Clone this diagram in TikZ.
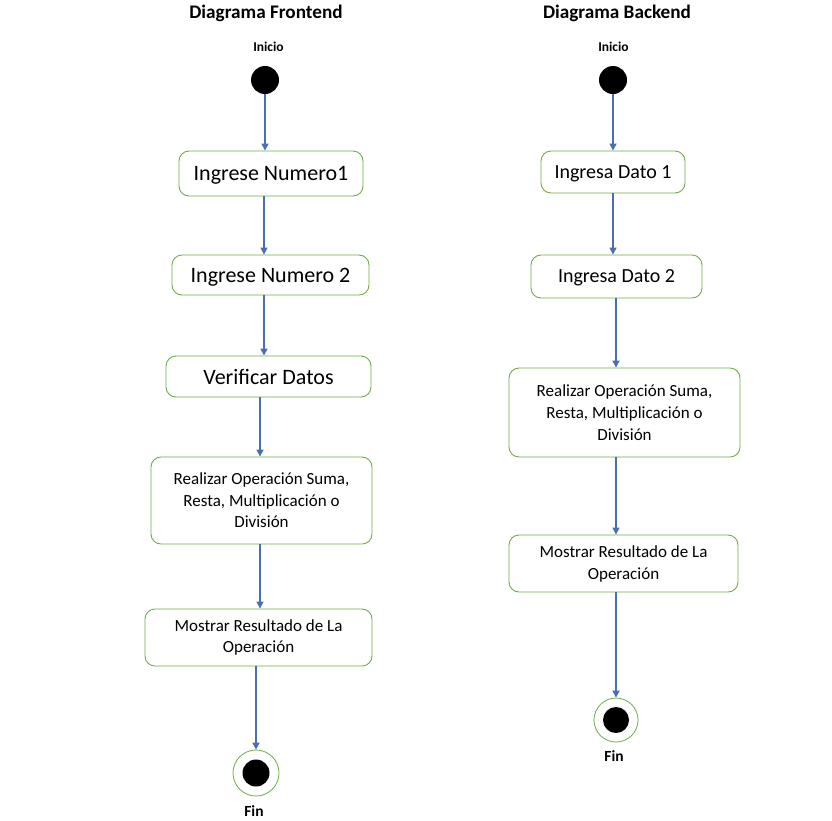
\documentclass[tikz,border=0pt]{standalone}
\usepackage{fontspec}
\setmainfont{Carlito}
\usetikzlibrary{arrows.meta}
\definecolor{boxgreen}{HTML}{70AD47}
\definecolor{arrblue}{HTML}{4A6FB0}
\tikzset{
  act/.style={draw=boxgreen, line width=0.9pt, rounded corners=10pt, inner sep=0pt, align=center},
  bigtxt/.style={font=\fontsize{22}{26}\selectfont, text depth=0pt},
  midtxt/.style={font=\fontsize{20}{24}\selectfont, text depth=0pt},
  smalltxt/.style={font=\fontsize{17}{22}\selectfont},
  flow/.style={draw=arrblue, line width=1.6pt, -{Triangle[width=7pt,length=7pt]}},
  startdot/.style={circle, fill=black, minimum size=28pt, inner sep=0pt},
  endring/.style={circle, draw=boxgreen, line width=0.8pt, fill=white, inner sep=0pt},
  enddot/.style={circle, fill=black, inner sep=0pt, minimum size=27pt},
  lbl/.style={font=\bfseries\fontsize{13.5}{16}\selectfont},
  finlbl/.style={font=\bfseries\fontsize{15.5}{18}\selectfont},
  ttl/.style={font=\bfseries\fontsize{19.2}{23}\selectfont}
}
\begin{document}
\begin{tikzpicture}[x=1pt,y=-1pt]
\useasboundingbox[fill=white] (0,0) rectangle (832,820);
% ---------- Frontend ----------
\node[ttl] (tf) at (266,13) {Diagrama Frontend};
\node[lbl] (if) at (268.5,47) {Inicio};
\node[startdot] (sf) at (265,80) {};
\node[act,bigtxt,minimum width=184pt,minimum height=45pt] (f1) at (271,173.5) {Ingrese Numero1};
\node[act,bigtxt,minimum width=197pt,minimum height=40pt] (f2) at (270.5,275) {Ingrese Numero 2};
\node[act,bigtxt,minimum width=205pt,minimum height=41pt] (f3) at (268.5,376.5) {Verificar Datos};
\node[act,font=\fontsize{17}{21.5}\selectfont,minimum width=221pt,minimum height=87pt] (f4) at (261.5,500.5) {Realizar Operación Suma,\\Resta, Multiplicación o\\División};
\node[act,font=\fontsize{17}{21.5}\selectfont,minimum width=227pt,minimum height=57pt] (f5) at (258.5,637.5) {Mostrar Resultado de La\\Operación};
\node[endring,minimum size=46pt] (ef) at (256,773) {};
\node[enddot] (efd) at (256,773) {};
\node[finlbl] (ff) at (254,811) {Fin};
\draw[flow] (sf.south) -- (sf.south |- f1.north);
\draw[flow] (f1.south -| 264,0) -- (264,0 |- f2.north);
\draw[flow] (f2.south -| 264,0) -- (264,0 |- f3.north);
\draw[flow] (f3.south -| 260,0) -- (260,0 |- f4.north);
\draw[flow] (f4.south -| 260,0) -- (260,0 |- f5.north);
\draw[flow] (f5.south -| 256,0) -- (ef.north);
% ---------- Backend ----------
\node[ttl] (tb) at (617,13) {Diagrama Backend};
\node[lbl] (ib) at (613.5,47) {Inicio};
\node[startdot] (sb) at (613,80) {};
\node[act,midtxt,minimum width=144pt,minimum height=42pt] (b1) at (613,172) {Ingresa Dato 1};
\node[act,midtxt,minimum width=171pt,minimum height=43pt] (b2) at (616.5,276.5) {Ingresa Dato 2};
\node[act,smalltxt,minimum width=231pt,minimum height=89pt] (b3) at (624.5,412.5) {Realizar Operación Suma,\\Resta, Multiplicación o\\División};
\node[act,smalltxt,minimum width=229pt,minimum height=57pt] (b4) at (623.5,563.5) {Mostrar Resultado de La\\Operación};
\node[endring,minimum size=44pt] (eb) at (616,720) {};
\node[enddot,minimum size=26pt] (ebd) at (616,720) {};
\node[finlbl] (fb) at (614,756) {Fin};
\draw[flow] (sb.south) -- (sb.south |- b1.north);
\draw[flow] (b1.south) -- (b1.south |- b2.north);
\draw[flow] (b2.south -| 616,0) -- (616,0 |- b3.north);
\draw[flow] (b3.south -| 616,0) -- (616,0 |- b4.north);
\draw[flow] (b4.south -| 616,0) -- (eb.north);
\end{tikzpicture}
\end{document}
